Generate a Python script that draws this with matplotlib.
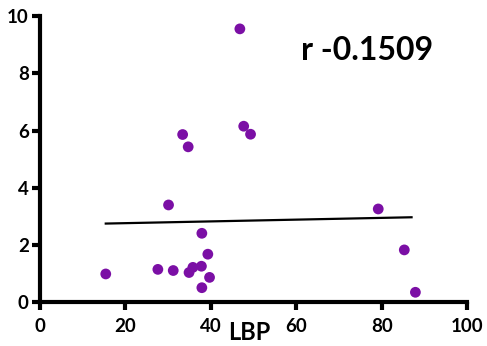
import numpy as np
import matplotlib
matplotlib.use("Agg")
import matplotlib.pyplot as plt

plt.rcParams['font.family'] = ['Lato', 'DejaVu Sans']
plt.rcParams['font.weight'] = 'bold'

# LBP vs. measured value
lbp = [15.4, 27.6, 31.2, 30.1, 33.4, 34.7, 34.9, 35.8, 37.8, 37.9, 37.9,
       39.3, 39.7, 46.8, 47.7, 49.3, 79.2, 85.3, 87.9]
val = [0.99, 1.15, 1.11, 3.40, 5.86, 5.43, 1.04, 1.22, 1.26, 2.41, 0.51,
       1.68, 0.87, 9.55, 6.15, 5.87, 3.26, 1.83, 0.35]

# fitted trend line endpoints
fit_x = [15.4, 87.0]
fit_y = [2.75, 2.97]

r_label = "r -0.1509"
x_ticks = [0, 20, 40, 60, 80, 100]
y_ticks = [0, 2, 4, 6, 8, 10]

fig = plt.figure(figsize=(4.87, 3.46), dpi=100)
ax = fig.add_axes([0.0821, 0.1263, 0.877, 0.8275])

ax.scatter(lbp, val, s=60, color='#7B0FA5', edgecolors='none', zorder=3)
ax.plot(fit_x, fit_y, color='black', lw=1.6, zorder=2)

ax.set_xlim(0, 100)
ax.set_ylim(0, 10)
ax.set_xticks(x_ticks)
ax.set_yticks(y_ticks)
ax.set_xticklabels([str(t) for t in x_ticks], fontsize=13.5, fontweight='bold')
ax.set_yticklabels([str(t) for t in y_ticks], fontsize=13.5, fontweight='bold')

for s in ['top', 'right']:
    ax.spines[s].set_visible(False)
for s in ['left', 'bottom']:
    ax.spines[s].set_linewidth(3)
    ax.spines[s].set_color('black')
ax.tick_params(axis='both', width=3, length=6, direction='out', pad=2)
ax.tick_params(axis='x', pad=5)

fig.text(249 / 487, 1 - 333 / 346, "LBP", fontsize=17, fontweight='bold',
         ha='center', va='center')
ax.text(0.61, 0.88, r_label, transform=ax.transAxes, fontsize=23,
        fontweight='bold', ha='left', va='center')

fig.savefig("out.png", dpi=100)
